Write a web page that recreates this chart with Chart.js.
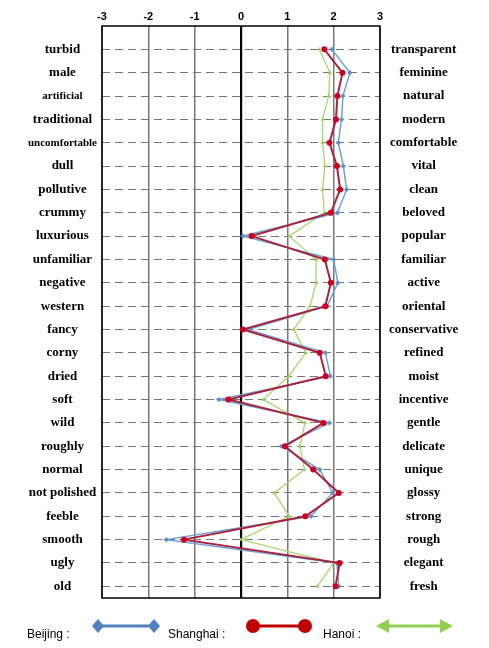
<!DOCTYPE html>
<html>
<head>
<meta charset="utf-8">
<script src="https://cdn.jsdelivr.net/npm/chart.js@4.4.0/dist/chart.umd.min.js"></script>
<style>
  html, body { margin: 0; padding: 0; background: #fff; }
  #wrap { width: 489px; height: 648px; }
</style>
</head>
<body>
<div id="wrap"><canvas id="chart" width="489" height="648"></canvas></div>
<script>
// Word pairs, top to bottom
const leftLabels = ['turbid', 'male', 'artificial', 'traditional', 'uncomfortable', 'dull', 'pollutive', 'crummy',
  'luxurious', 'unfamiliar', 'negative', 'western', 'fancy', 'corny', 'dried', 'soft', 'wild', 'roughly',
  'normal', 'not polished', 'feeble', 'smooth', 'ugly', 'old'];
const rightLabels = ['transparent', 'feminine', 'natural', 'modern', 'comfortable', 'vital', 'clean', 'beloved',
  'popular', 'familiar', 'active', 'oriental', 'conservative', 'refined', 'moist', 'incentive', 'gentle', 'delicate',
  'unique', 'glossy', 'strong', 'rough', 'elegant', 'fresh'];

// Mean scores per city
const beijing = [1.96, 2.35, 2.20, 2.17, 2.10, 2.21, 2.28, 2.08, 0.04, 2.00, 2.09, 1.86, 0.15, 1.82, 1.93, -0.48,
  1.91, 0.87, 1.70, 1.98, 1.51, -1.61, 2.07, 2.11];
const shanghai = [1.80, 2.19, 2.08, 2.05, 1.91, 2.07, 2.14, 1.94, 0.23, 1.81, 1.94, 1.82, 0.04, 1.70, 1.83, -0.27,
  1.78, 0.95, 1.56, 2.11, 1.39, -1.23, 2.13, 2.04];
const hanoi = [1.69, 1.92, 1.89, 1.76, 1.76, 1.81, 1.76, 1.80, 1.04, 1.62, 1.62, 1.49, 1.14, 1.40, 1.03, 0.48,
  1.38, 1.27, 1.37, 0.72, 1.04, 0.00, 2.00, 1.65];

const xTicks = [-3, -2, -1, 0, 1, 2, 3];
const smallLabels = ['artificial', 'uncomfortable'];

const toPoints = arr => arr.map((v, i) => ({ x: v, y: i }));
const rowTicks = scale => { scale.ticks = leftLabels.map((_, i) => ({ value: i })); };

// Plot frame
const framePlugin = {
  id: 'frame',
  beforeDatasetsDraw(chart) {
    const { ctx, chartArea: a } = chart;
    ctx.save();
    ctx.strokeStyle = '#000';
    ctx.lineWidth = 1.5;
    ctx.strokeRect(a.left, a.top, a.right - a.left, a.bottom - a.top);
    ctx.restore();
  }
};

// Legend with line symbols under the plot
const legendPlugin = {
  id: 'cityLegend',
  afterDraw(chart) {
    const ctx = chart.ctx;
    const symY = 626;
    ctx.save();
    ctx.font = '12px "Liberation Sans"';
    ctx.fillStyle = '#000';
    ctx.textBaseline = 'middle';
    ctx.fillText('Beijing :', 27, 635);
    ctx.fillText('Shanghai :', 168, 635);
    ctx.fillText('Hanoi :', 323, 635);

    // Beijing: line with diamonds
    ctx.strokeStyle = '#4f81bd';
    ctx.fillStyle = '#4f81bd';
    ctx.lineWidth = 3;
    ctx.beginPath(); ctx.moveTo(98, symY); ctx.lineTo(154, symY); ctx.stroke();
    [98, 154].forEach(x => {
      ctx.beginPath();
      ctx.moveTo(x, symY - 7); ctx.lineTo(x + 6, symY); ctx.lineTo(x, symY + 7); ctx.lineTo(x - 6, symY);
      ctx.closePath(); ctx.fill();
    });

    // Shanghai: line with circles
    ctx.strokeStyle = '#c00000';
    ctx.fillStyle = '#c00000';
    ctx.beginPath(); ctx.moveTo(253, symY); ctx.lineTo(305, symY); ctx.stroke();
    [253, 305].forEach(x => {
      ctx.beginPath(); ctx.arc(x, symY, 7, 0, Math.PI * 2); ctx.fill();
    });

    // Hanoi: double arrow
    ctx.strokeStyle = '#92d050';
    ctx.fillStyle = '#92d050';
    ctx.beginPath(); ctx.moveTo(385, symY); ctx.lineTo(445, symY); ctx.stroke();
    ctx.beginPath();
    ctx.moveTo(376, symY); ctx.lineTo(389, symY - 7); ctx.lineTo(389, symY + 7); ctx.closePath(); ctx.fill();
    ctx.beginPath();
    ctx.moveTo(453, symY); ctx.lineTo(440, symY - 7); ctx.lineTo(440, symY + 7); ctx.closePath(); ctx.fill();
    ctx.restore();
  }
};

new Chart(document.getElementById('chart'), {
  type: 'line',
  data: {
    datasets: [
      {
        label: 'Shanghai',
        data: toPoints(shanghai),
        borderColor: '#a8243e',
        backgroundColor: '#cc0020',
        borderWidth: 2,
        pointStyle: 'circle',
        pointRadius: 3,
        pointBorderWidth: 0,
        order: 0
      },
      {
        label: 'Beijing',
        data: toPoints(beijing),
        borderColor: '#6fa3d8',
        backgroundColor: '#5b8fc9',
        borderWidth: 1.5,
        pointStyle: 'rectRot',
        pointRadius: 2.6,
        pointBorderWidth: 0,
        order: 1
      },
      {
        label: 'Hanoi',
        data: toPoints(hanoi),
        borderColor: '#a6d86a',
        backgroundColor: '#9ccf5e',
        borderWidth: 1.3,
        pointStyle: 'triangle',
        pointRadius: 2.4,
        pointBorderWidth: 0,
        order: 2
      }
    ]
  },
  options: {
    responsive: false,
    animation: false,
    layout: { padding: { top: 0, bottom: 50, left: 0, right: 0 } },
    plugins: { legend: { display: false }, tooltip: { enabled: false } },
    scales: {
      x: {
        type: 'linear',
        position: 'top',
        min: -3,
        max: 3,
        afterBuildTicks: scale => { scale.ticks = xTicks.map(v => ({ value: v })); },
        afterFit: scale => { scale.height = 26; },
        ticks: {
          padding: 2,
          color: '#000',
          font: { family: 'Liberation Sans', weight: 'bold', size: 11 }
        },
        grid: {
          drawTicks: false,
          color: ctx => (ctx.tick && ctx.tick.value === 0 ? '#000' : '#777'),
          lineWidth: ctx => (ctx.tick && ctx.tick.value === 0 ? 2.2 : 1.5)
        },
        border: { display: false }
      },
      y: {
        type: 'linear',
        position: 'left',
        reverse: true,
        min: -1,
        max: 23.5,
        afterBuildTicks: rowTicks,
        afterFit: scale => { scale.width = 102; },
        ticks: {
          crossAlign: 'center',
          padding: 5,
          color: '#000',
          callback: v => leftLabels[v],
          font: ctx => ({
            family: 'Liberation Serif',
            weight: 'bold',
            size: smallLabels.includes(leftLabels[ctx.index]) ? 11 : 13
          })
        },
        grid: { drawTicks: false, color: '#777', lineWidth: 1 },
        border: { display: false, dash: [8, 5] }
      },
      y2: {
        type: 'linear',
        position: 'right',
        reverse: true,
        min: -1,
        max: 23.5,
        afterBuildTicks: rowTicks,
        afterFit: scale => { scale.width = 109; },
        ticks: {
          crossAlign: 'center',
          padding: 1,
          color: '#000',
          callback: v => rightLabels[v],
          font: { family: 'Liberation Serif', weight: 'bold', size: 13 }
        },
        grid: { display: false },
        border: { display: false }
      }
    }
  },
  plugins: [framePlugin, legendPlugin]
});
</script>
</body>
</html>
